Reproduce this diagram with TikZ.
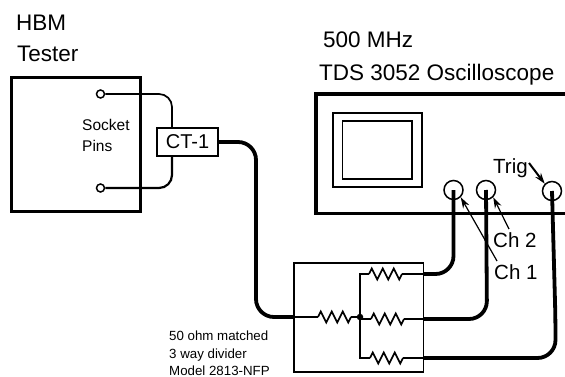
\documentclass[tikz,border=0pt]{standalone}
\usepackage{fontspec}
\setmainfont{Liberation Sans}
\usetikzlibrary{decorations.pathmorphing,arrows.meta}

\newcommand{\fsize}[1]{\fontsize{#1}{#1}\selectfont}

\tikzset{
    title/.style={anchor=base west, inner sep=0pt, font=\fsize{22.5}},
    small/.style={anchor=base west, inner sep=0pt, font=\fsize{13.3}},
    chlabel/.style={anchor=base west, inner sep=0pt, font=\fsize{20.5}},
    pin/.style={circle, draw, line width=1.5pt, minimum size=8pt, inner sep=0pt},
    jack/.style={circle, draw, line width=1.5pt, minimum size=19pt, inner sep=0pt},
    wire/.style={line width=1.7pt},
    coax/.style={line width=3.8pt, rounded corners=18pt},
    lead/.style={line width=1.2pt, -{Stealth[length=11pt,width=7pt]}},
    resistor/.style={line width=1.6pt, decorate, decoration={zigzag, segment length=11pt, amplitude=5.5pt}}
}

\begin{document}
\begin{tikzpicture}[x=1pt, y=-1pt]
    \useasboundingbox (0,0) rectangle (565,377);

    % ==========================================
    % --- HBM tester ---
    % ==========================================
    \node[title] (hbm) at (16,31) {HBM};
    \node[title] (tester) at (17,62) {Tester};
    \draw[line width=3pt] (11.5,77.5) rectangle (140,211);
    \node[anchor=base west, inner sep=0pt, font=\fsize{15.5}] (socket) at (82,131) {Socket};
    \node[anchor=base west, inner sep=0pt, font=\fsize{15.5}] (pins) at (82,152) {Pins};

    % Socket pins and the loop through the current probe
    \node[pin] (pintop) at (100.5,94) {};
    \node[pin] (pinlow) at (100.5,188) {};
    \node[draw, line width=1.6pt, minimum width=61pt, minimum height=28pt, inner sep=0pt, font=\fsize{20}] (ct) at (187.5,142) {\raisebox{-2pt}{CT-1}\hspace{6pt}};
    \coordinate (bendtop) at (172,94);
    \coordinate (bendlow) at (172,188);
    \draw[wire, rounded corners=13pt] (pintop.east) -- (bendtop) -- (bendtop |- ct.north);
    \draw[wire, line width=2.2pt, rounded corners=13pt] (bendlow |- ct.south) -- (bendlow) -- (pinlow.east);

    % ==========================================
    % --- Oscilloscope ---
    % ==========================================
    \node[title] (mhz) at (323,48) {500 MHz};
    \node[title] (tds) at (319,81) {TDS 3052 Oscilloscope};
    \draw[line width=3.5pt] (566,94) -- (316,94) -- (316,213.5) -- (566,213.5);
    \draw[line width=1.3pt] (333,113) rectangle (422,187);
    \draw[line width=1.3pt] (342.5,121) rectangle (412,179);

    \node[jack] (chone) at (453.5,190) {};
    \node[jack] (chtwo) at (486,190) {};
    \node[jack] (trig) at (552,191) {};

    % Labels with their arrows
    \node[chlabel] (trigtext) at (493,173) {Trig};
    \node[chlabel] (chtwotext) at (493,247) {Ch 2};
    \node[chlabel] (chonetext) at (494,279) {Ch 1};
    \coordinate (trigtail) at (529,163);
    \coordinate (chtwotail) at (509,229);
    \coordinate (chonetail) at (497,261);
    \draw[lead, line width=2pt] (trigtail) -- (trig.north west);
    \draw[lead] (chtwotail) -- (chtwo.south east);
    \draw[lead] (chonetail) -- (chone.south east);

    % ==========================================
    % --- 3 way divider ---
    % ==========================================
    \draw[line width=1.5pt] (294,263) rectangle (423.5,372);
    \node[small] (ohm) at (169,340.5) {50 ohm matched};
    \node[small] (way) at (169,358) {3 way divider};
    \node[small] (model) at (169,375.5) {Model 2813-NFP};

    \coordinate (input) at (294,317);
    \coordinate (inres) at (318,317);
    \coordinate (inend) at (351,317);
    \node[circle, fill, inner sep=0pt, minimum size=6.5pt] (hub) at (360,317) {};
    \draw[wire] (input) -- (inres);
    \draw[resistor] (inres) -- (inend);
    \draw[wire] (inend) -- (hub);

    \coordinate (outtop) at (423.5,274);
    \coordinate (outmid) at (423.5,319);
    \coordinate (outlow) at (423.5,358);

    % One branch for each output
    \foreach \branch/\start in {outtop/369, outmid/371, outlow/370} {
        \coordinate (res) at (\start,0);
        \draw[wire] (hub.center) -- (hub.center |- \branch) -- (res |- \branch);
        \draw[resistor] (res |- \branch) -- ++(33,0) coordinate (resend);
        \draw[wire] (resend) -- (\branch);
    }

    % ==========================================
    % --- Coax cables ---
    % ==========================================
    \coordinate (cablea) at (256,142);
    \coordinate (cableb) at (256,317);
    \draw[coax] (ct.east) -- (cablea) -- (cableb) -- (input);

    \coordinate (cablec) at (453.5,274);
    \draw[coax] (chone.center) -- (cablec) -- (outtop);

    \coordinate (cabled) at (487,319);
    \draw[coax] (chtwo.center) -- (cabled) -- (outmid);

    \coordinate (cablee) at (555.5,320);
    \coordinate (cablef) at (555.5,358);
    \draw[coax] (trig.center) -- (cablee) -- (cablef) -- (outlow);

\end{tikzpicture}
\end{document}
